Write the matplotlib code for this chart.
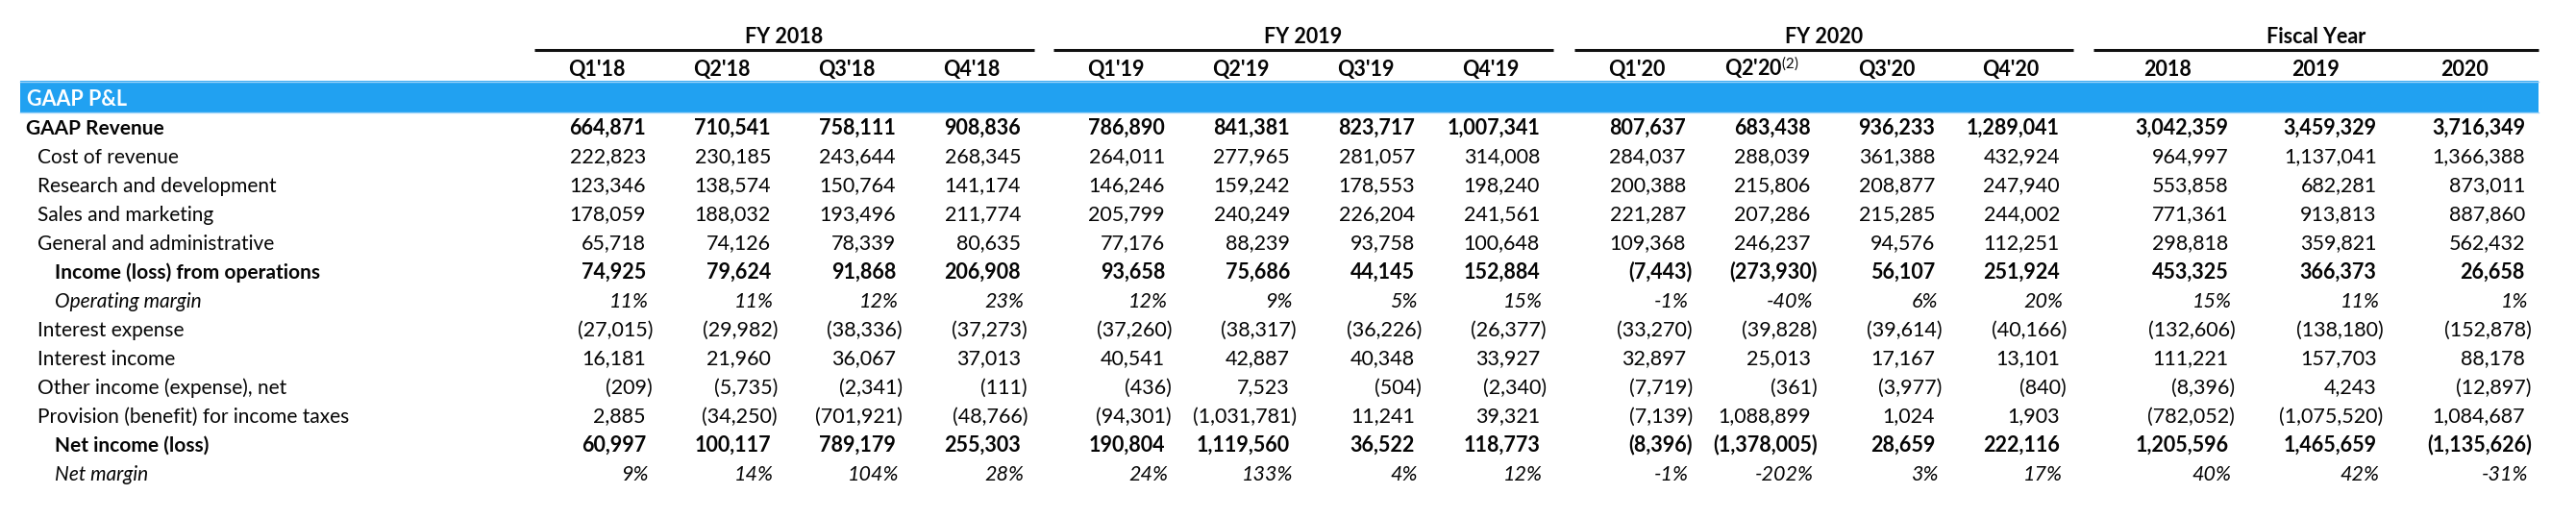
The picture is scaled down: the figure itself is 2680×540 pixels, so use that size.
import matplotlib
matplotlib.use("Agg")
import matplotlib.pyplot as plt
from matplotlib.patches import Rectangle

# ---------------- data ----------------
group_titles = ["FY 2018", "FY 2019", "FY 2020", "Fiscal Year"]
col_labels = ["Q1'18", "Q2'18", "Q3'18", "Q4'18",
              "Q1'19", "Q2'19", "Q3'19", "Q4'19",
              "Q1'20", "Q2'20$^{(2)}$", "Q3'20", "Q4'20",
              "2018", "2019", "2020"]
section_title = "GAAP P&L"

row_labels = ["GAAP Revenue", "Cost of revenue", "Research and development",
              "Sales and marketing", "General and administrative",
              "Income (loss) from operations", "Operating margin",
              "Interest expense", "Interest income", "Other income (expense), net",
              "Provision (benefit) for income taxes", "Net income (loss)", "Net margin"]

gaap_revenue = [664871, 710541, 758111, 908836, 786890, 841381, 823717, 1007341,
                807637, 683438, 936233, 1289041, 3042359, 3459329, 3716349]
cost_of_revenue = [222823, 230185, 243644, 268345, 264011, 277965, 281057, 314008,
                   284037, 288039, 361388, 432924, 964997, 1137041, 1366388]
research_dev = [123346, 138574, 150764, 141174, 146246, 159242, 178553, 198240,
                200388, 215806, 208877, 247940, 553858, 682281, 873011]
sales_marketing = [178059, 188032, 193496, 211774, 205799, 240249, 226204, 241561,
                   221287, 207286, 215285, 244002, 771361, 913813, 887860]
general_admin = [65718, 74126, 78339, 80635, 77176, 88239, 93758, 100648,
                 109368, 246237, 94576, 112251, 298818, 359821, 562432]
income_ops = [74925, 79624, 91868, 206908, 93658, 75686, 44145, 152884,
              -7443, -273930, 56107, 251924, 453325, 366373, 26658]
operating_margin = [11, 11, 12, 23, 12, 9, 5, 15, -1, -40, 6, 20, 15, 11, 1]
interest_expense = [-27015, -29982, -38336, -37273, -37260, -38317, -36226, -26377,
                    -33270, -39828, -39614, -40166, -132606, -138180, -152878]
interest_income = [16181, 21960, 36067, 37013, 40541, 42887, 40348, 33927,
                   32897, 25013, 17167, 13101, 111221, 157703, 88178]
other_income = [-209, -5735, -2341, -111, -436, 7523, -504, -2340,
                -7719, -361, -3977, -840, -8396, 4243, -12897]
tax_provision = [2885, -34250, -701921, -48766, -94301, -1031781, 11241, 39321,
                 -7139, 1088899, 1024, 1903, -782052, -1075520, 1084687]
net_income = [60997, 100117, 789179, 255303, 190804, 1119560, 36522, 118773,
              -8396, -1378005, 28659, 222116, 1205596, 1465659, -1135626]
net_margin = [9, 14, 104, 28, 24, 133, 4, 12, -1, -202, 3, 17, 40, 42, -31]

rows = [gaap_revenue, cost_of_revenue, research_dev, sales_marketing, general_admin,
        income_ops, operating_margin, interest_expense, interest_income, other_income,
        tax_provision, net_income, net_margin]
row_kind = ["num"] * 6 + ["pct"] + ["num"] * 5 + ["pct"]
row_style = ["bold", "normal", "normal", "normal", "normal", "bold", "italic",
             "normal", "normal", "normal", "normal", "bold", "italic"]
row_indent = [0, 1, 1, 1, 1, 2, 2, 1, 1, 1, 1, 2, 2]

# ---------------- style / layout ----------------
FONT = "Lato"
plt.rcParams["font.family"] = [FONT, "DejaVu Sans"]
plt.rcParams["mathtext.fontset"] = "custom"
plt.rcParams["mathtext.rm"] = FONT
plt.rcParams["mathtext.it"] = FONT + ":italic"
plt.rcParams["mathtext.bf"] = FONT + ":bold"
FS = 15.5
LFS = 15.0
TXT = "#050505"
BLUE = "#21A1F1"

W, H = 2680, 540
fig = plt.figure(figsize=(W / 100, H / 100), dpi=100)
ax = fig.add_axes([0, 0, 1, 1])
ax.set_xlim(0, W)
ax.set_ylim(H, 0)
ax.axis("off")

group_spans = [(556, 1076, 4), (1096, 1616, 4), (1638, 2157, 4), (2178, 2641, 3)]
cells = []
for (x0, x1, n) in group_spans:
    w = (x1 - x0) / n
    for k in range(n):
        cells.append((x0 + k * w, x0 + (k + 1) * w))

# group titles and rules
for (x0, x1, n), title in zip(group_spans, group_titles):
    ax.text((x0 + x1) / 2, 45, title, ha="center", va="baseline",
            fontsize=FS, fontweight="bold", color=TXT)
    ax.plot([x0, x1], [52, 52], color="#111111", lw=2.2, solid_capstyle="butt")

# column headers
for (c0, c1), lab in zip(cells, col_labels):
    ax.text((c0 + c1) / 2, 79, lab, ha="center", va="baseline",
            fontsize=FS, fontweight="bold", color=TXT)

# blue section band
ax.add_patch(Rectangle((21, 84), 2641 - 21, 33, facecolor=BLUE, edgecolor="none"))
ax.plot([21, 2641], [84.5, 84.5], color="#9ED3F8", lw=1)
ax.plot([21, 2641], [116.5, 116.5], color="#9ED3F8", lw=1)
ax.text(28, 109.5, section_title, ha="left", va="baseline",
        fontsize=FS, fontweight="bold", color="white")

indent_x = [27, 39, 57]


def fmt(v, kind):
    if kind == "pct":
        return f"{v}%"
    if v < 0:
        return f"({-v:,})"
    return f"{v:,}"


for i, (lab, vals) in enumerate(zip(row_labels, rows)):
    yb = 139.5 + 30 * i
    st = row_style[i]
    fw = "bold" if st == "bold" else "normal"
    fst = "italic" if st == "italic" else "normal"
    ax.text(indent_x[row_indent[i]], yb, lab, ha="left", va="baseline",
            fontsize=LFS, fontweight=fw, fontstyle=fst, color=TXT)
    for (c0, c1), v in zip(cells, vals):
        xr = c1 - 14
        kind = row_kind[i]
        if kind == "num" and v < 0:
            xr += 7
        if kind == "pct":
            xr += 3
        ax.text(xr, yb, fmt(v, kind), ha="right", va="baseline",
                fontsize=FS, fontweight=fw, fontstyle=fst, color=TXT)

fig.savefig("out.png", dpi=100, facecolor="white")
